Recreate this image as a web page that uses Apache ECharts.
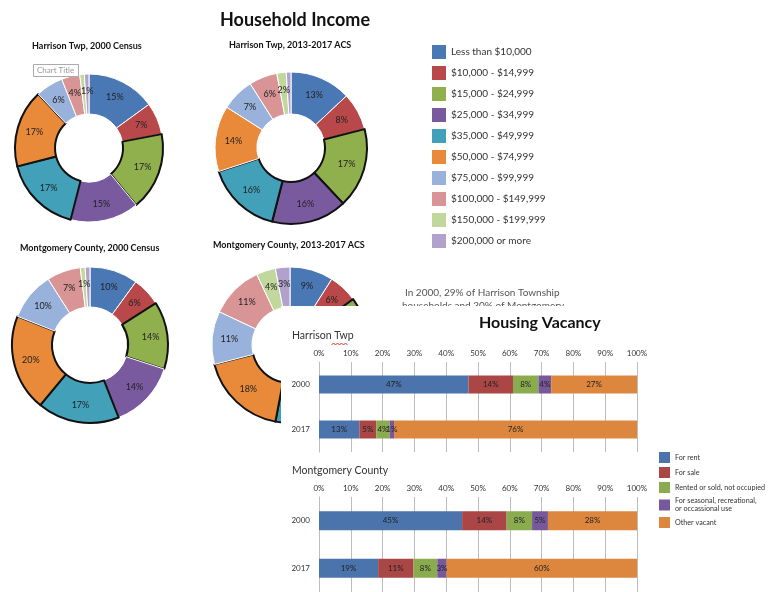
<!DOCTYPE html>
<html>
<head>
<meta charset="utf-8">
<script src="https://cdn.jsdelivr.net/npm/echarts@6/dist/echarts.min.js"></script>
<style>
  body { margin: 0; background: #fff; }
  #pies { position: absolute; left: 0; top: 0; width: 768px; height: 592px; }
  /* housing vacancy panel sits on top of the pies */
  #vacancy { position: absolute; left: 281px; top: 306px; width: 487px; height: 286px; background: #fff; }
</style>
</head>
<body>
<div id="pies"></div>
<div id="vacancy"></div>
<script>
// income bands (legend)
const incomeBands = ['Less than $10,000', '$10,000 - $14,999', '$15,000 - $24,999', '$25,000 - $34,999',
  '$35,000 - $49,999', '$50,000 - $74,999', '$75,000 - $99,999', '$100,000 - $149,999',
  '$150,000 - $199,999', '$200,000 or more']
// percent of households
const harrison2000 = [15, 7, 17, 15, 17, 17, 6, 4, 1, 1]
const harrisonACS = [13, 8, 17, 16, 16, 14, 7, 6, 2, 1]
const montgomery2000 = [10, 6, 14, 14, 17, 20, 10, 7, 1, 1]
const montgomeryACS = [9, 6, 13, 12, 13, 18, 11, 11, 4, 3]

// housing vacancy, [2000, 2017] per type
const vacancyTypes = ['For rent', 'For sale', 'Rented or sold, not occupied',
  'For seasonal, recreational,\nor occassional use', 'Other vacant']
const vacancyYears = ['2000', '2017']
const harrisonVac = [[47, 12.7], [14, 5.3], [8, 4.2], [4, 1.4], [27, 76.4]]
const montgomeryVac = [[45, 18.6], [14, 11.1], [8, 7.5], [5, 2.9], [28, 59.9]]

const pieColors = ['#4a78b4', '#b9484a', '#8fb04c', '#7a5a9f', '#42a0b9', '#e98a3b',
  '#98b2dc', '#d99595', '#c1d79b', '#b2a1ca']
const barColors = ['#4a74ab', '#aa4646', '#8aab4e', '#77599b', '#dd873e']
const font = 'Lato'

function pieSeries(values, center, radius, bold) {
  return {
    type: 'pie',
    center: center,
    radius: radius,
    startAngle: 90,
    avoidLabelOverlap: false,
    label: { show: true, position: 'inside', formatter: '{c}%', color: '#222', fontSize: 9, fontFamily: font },
    labelLine: { show: false },
    emphasis: { disabled: true },
    data: values.map((v, i) => ({
      name: incomeBands[i],
      value: v,
      itemStyle: bold.includes(i)
        ? { borderColor: '#111', borderWidth: 2 }
        : { borderColor: '#fff', borderWidth: 1 }
    }))
  }
}

function pieTitle(text, x, y) {
  return { type: 'text', left: x, top: y, style: { text: text, fill: '#111', font: 'bold 9px ' + font } }
}

const pieChart = echarts.init(document.getElementById('pies'))
pieChart.setOption({
  color: pieColors,
  animation: false,
  title: {
    text: 'Household Income', left: 215, top: 6,
    textStyle: { fontSize: 18, fontWeight: 'bold', fontFamily: font, color: '#111' }
  },
  legend: {
    orient: 'vertical', left: 432, top: 45, padding: 0,
    itemWidth: 14, itemHeight: 14, itemGap: 7, selectedMode: false,
    icon: 'rect',
    itemStyle: { borderWidth: 0 },
    textStyle: { fontSize: 10, fontFamily: font, color: '#333' },
    data: incomeBands
  },
  graphic: [
    pieTitle('Harrison Twp, 2000 Census', 32, 42),
    pieTitle('Harrison Twp, 2013-2017 ACS', 229, 41),
    pieTitle('Montgomery County, 2000 Census', 20, 244),
    pieTitle('Montgomery County, 2013-2017 ACS', 213, 241),
    {
      type: 'rect', left: 33, top: 64, z: 10,
      shape: { width: 45, height: 12 },
      style: { fill: '#fff', stroke: '#aaa', lineWidth: 1 }
    },
    { type: 'text', left: 37, top: 66, z: 11, style: { text: 'Chart Title', fill: '#999', font: '8px ' + font } },
    { type: 'text', left: 405, top: 288, style: { text: 'In 2000, 29% of Harrison Township', fill: '#555', font: '10px ' + font } },
    { type: 'text', left: 402, top: 301, style: { text: 'households and 30% of Montgomery', fill: '#555', font: '10px ' + font } }
  ],
  series: [
    pieSeries(harrison2000, [89, 148], [34, 74], [2, 4, 5]),
    pieSeries(harrisonACS, [291, 148], [34, 76], [2, 3, 4]),
    pieSeries(montgomery2000, [90, 345], [38, 78], [2, 4, 5]),
    pieSeries(montgomeryACS, [290, 345], [38, 78], [2, 4, 5])
  ]
})

function barSeries(rows, gridIndex) {
  return rows.map((vals, i) => ({
    type: 'bar',
    name: vacancyTypes[i],
    stack: 'vac' + gridIndex,
    xAxisIndex: gridIndex,
    yAxisIndex: gridIndex,
    barWidth: '40%',
    itemStyle: { color: barColors[i] },
    label: {
      show: true, position: 'inside', color: '#222', fontSize: 8, fontFamily: font,
      formatter: p => Math.round(p.value) + '%'
    },
    emphasis: { disabled: true },
    data: vals
  }))
}

function valueAxis(gridIndex) {
  return {
    gridIndex: gridIndex, type: 'value', position: 'top',
    min: 0, max: 100, interval: 10,
    axisLine: { show: false }, axisTick: { show: false },
    axisLabel: { formatter: '{value}%', fontSize: 8, color: '#333', fontFamily: font, margin: 5 },
    splitLine: { lineStyle: { color: '#bdbdbd', width: 1 } }
  }
}

function catAxis(gridIndex) {
  return {
    gridIndex: gridIndex, type: 'category', inverse: true, data: vacancyYears,
    axisLine: { lineStyle: { color: '#bdbdbd' } },
    axisTick: { lineStyle: { color: '#bdbdbd' }, length: 4 },
    axisLabel: { fontSize: 8, color: '#333', fontFamily: font, margin: 9 }
  }
}

const vacChart = echarts.init(document.getElementById('vacancy'))
vacChart.setOption({
  animation: false,
  title: {
    text: 'Housing Vacancy', left: 193, top: 4,
    textStyle: { fontSize: 16, fontWeight: 'bold', fontFamily: font, color: '#111' }
  },
  legend: {
    orient: 'vertical', left: 378, top: 146, padding: 0,
    itemWidth: 11, itemHeight: 11, itemGap: 4, selectedMode: false,
    icon: 'rect',
    textStyle: { fontSize: 7.2, fontFamily: font, color: '#333', lineHeight: 8 },
    data: vacancyTypes
  },
  graphic: [
    { type: 'text', left: 11, top: 24, style: { text: 'Harrison Twp', fill: '#333', font: '10.5px ' + font } },
    {
      type: 'polyline', left: 48, top: 35,
      shape: { points: [[0, 1], [2, 0], [4, 1], [6, 0], [8, 1], [10, 0], [12, 1], [14, 0], [16, 1]] },
      style: { stroke: '#e03030', lineWidth: 1, fill: null }
    },
    { type: 'text', left: 11, top: 159, style: { text: 'Montgomery County', fill: '#333', font: '10.5px ' + font } }
  ],
  grid: [
    { left: 38, right: 131, top: 56, height: 90 },
    { left: 38, right: 131, top: 191, height: 96 }
  ],
  xAxis: [valueAxis(0), valueAxis(1)],
  yAxis: [catAxis(0), catAxis(1)],
  series: barSeries(harrisonVac, 0).concat(barSeries(montgomeryVac, 1))
})
</script>
</body>
</html>
